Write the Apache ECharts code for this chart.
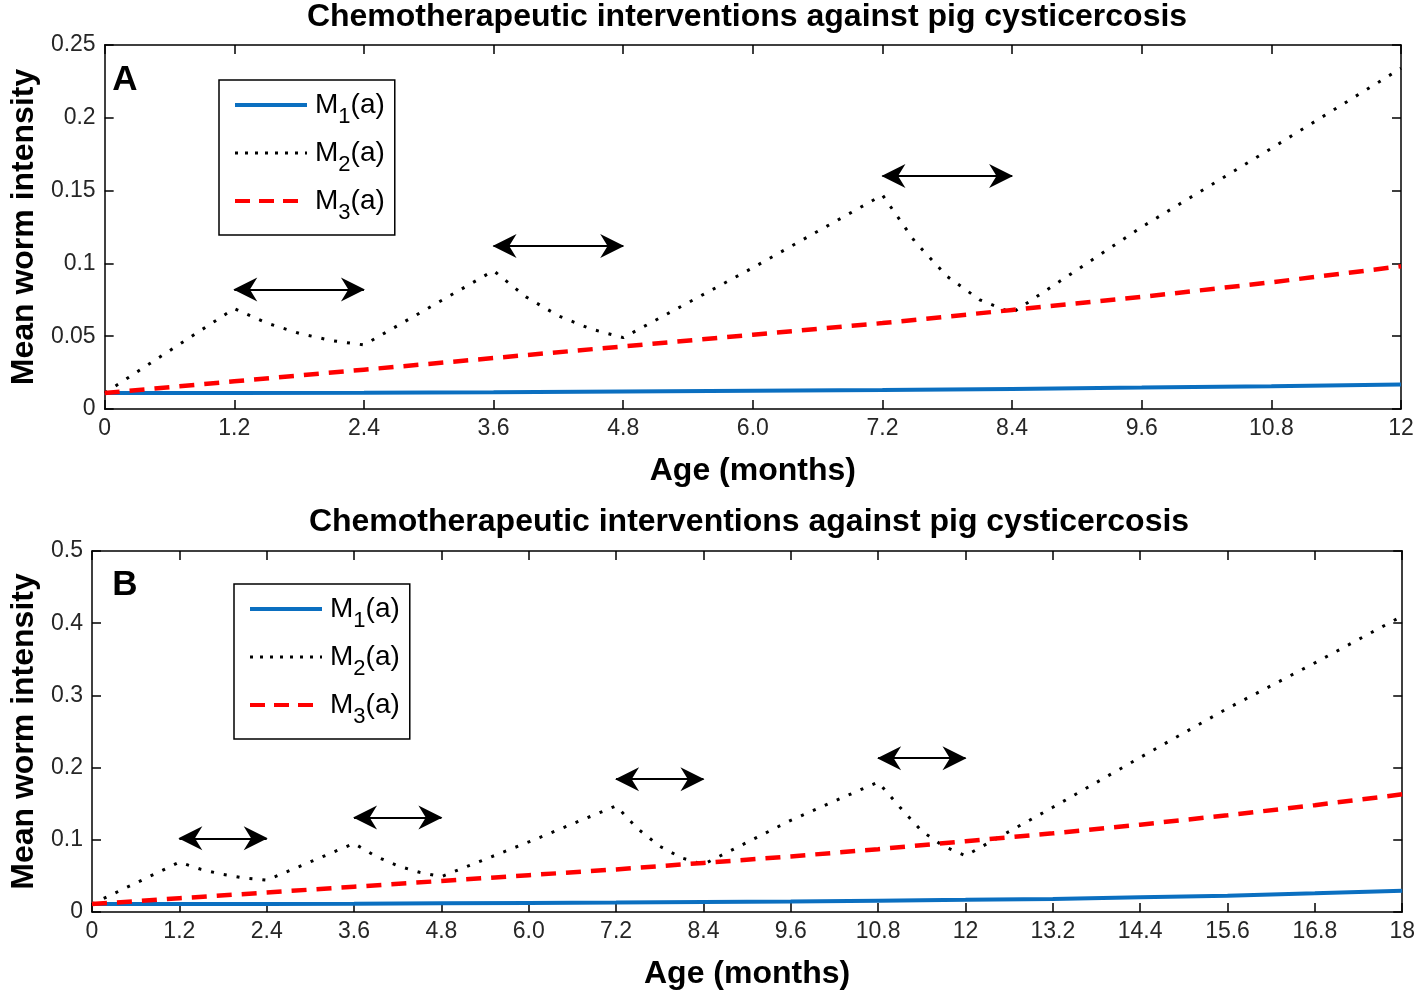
<!DOCTYPE html>
<html>
<head>
<meta charset="utf-8">
<title>Chemotherapeutic interventions against pig cysticercosis</title>
<script src="https://cdn.jsdelivr.net/npm/echarts@6/dist/echarts.min.js"></script>
<style>
  html, body { margin: 0; padding: 0; background: #fff; }
  #chart { width: 1418px; height: 991px; }
</style>
</head>
<body>
<div id="chart"></div>
<script>
// values (age in months, mean worm intensity)
var age = [0, 1.2, 2.4, 3.6, 4.8, 6.0, 7.2, 8.4, 9.6, 10.8, 12, 13.2, 14.4, 15.6, 16.8, 18];
var m1 = [0.011, 0.011, 0.0112, 0.0115, 0.012, 0.0125, 0.013, 0.0138, 0.0147, 0.0157, 0.0168, 0.018, 0.0205, 0.0225, 0.0258, 0.0295];
var m3 = [0.011, 0.019, 0.027, 0.035, 0.043, 0.051, 0.059, 0.068, 0.077, 0.087, 0.098, 0.109, 0.121, 0.134, 0.148, 0.163];

// M2 with treatment every 3.6 months (panel A) and 4 treatments (panel B)
var m2AgeA = [0, 1.2, 1.5, 1.8, 2.1, 2.4, 3.6, 3.9, 4.2, 4.5, 4.8, 6.0, 7.2, 7.5, 7.8, 8.1, 8.4, 9.6, 10.8, 12];
var m2A = [0.011, 0.069, 0.059, 0.052, 0.047, 0.044, 0.095, 0.077, 0.064, 0.055, 0.049, 0.097, 0.147, 0.115, 0.091, 0.075, 0.066, 0.125, 0.179, 0.234];
var m2AgeB = [0, 1.2, 1.5, 1.8, 2.1, 2.4, 3.6, 3.9, 4.2, 4.5, 4.8, 6.0, 7.2, 7.5, 7.8, 8.1, 8.4, 9.6, 10.8, 11.1, 11.4, 11.7, 12, 13.2, 14.4, 15.6, 16.8, 18];
var m2B = [0.011, 0.069, 0.059, 0.052, 0.047, 0.044, 0.095, 0.077, 0.064, 0.055, 0.049, 0.097, 0.147, 0.115, 0.091, 0.075, 0.066, 0.127, 0.180, 0.145, 0.112, 0.091, 0.078, 0.145, 0.214, 0.282, 0.345, 0.41];

// treatment-period arrows: [from, to, height]
var arrowsA = [[1.2, 2.4, 0.082], [3.6, 4.8, 0.112], [7.2, 8.4, 0.160]];
var arrowsB = [[1.2, 2.4, 0.102], [3.6, 4.8, 0.131], [7.2, 8.4, 0.184], [10.8, 12, 0.213]];

var xLabelsA = ['0', '1.2', '2.4', '3.6', '4.8', '6.0', '7.2', '8.4', '9.6', '10.8', '12'];
var xLabelsB = ['0', '1.2', '2.4', '3.6', '4.8', '6.0', '7.2', '8.4', '9.6', '10.8', '12', '13.2', '14.4', '15.6', '16.8', '18'];

var font = '"Liberation Sans", Arial, sans-serif';
var BLUE = '#0b6fc0', RED = '#ff0000';
var TITLE = 'Chemotherapeutic interventions against pig cysticercosis';
// matlab-like arrow head with swept-back wings
var HEAD = 'path://M0,0 L11,26 L0,18 L-11,26 Z';

var chart = echarts.init(document.getElementById('chart'));

function pairs(xs, ys, n) {
  var out = [];
  for (var i = 0; i < (n || xs.length); i++) out.push([xs[i], ys[i]]);
  return out;
}

function xAxes(gi, max, labels) {
  var line = {show: true, onZero: false, lineStyle: {color: '#000', width: 1.5}};
  var tick = {show: true, inside: true, length: 9, lineStyle: {color: '#000', width: 1.5}};
  return [{
    type: 'value', gridIndex: gi, position: 'bottom', min: 0, max: max, interval: 1.2,
    axisLine: line, axisTick: tick, splitLine: {show: false},
    name: 'Age (months)', nameLocation: 'middle', nameGap: 46,
    nameTextStyle: {fontFamily: font, fontSize: 32, fontWeight: 'bold', color: '#000'},
    axisLabel: {
      margin: 8, fontFamily: font, fontSize: 23, color: '#262626',
      formatter: function (v) { return labels[Math.round(v / 1.2)]; }
    }
  }, {
    type: 'value', gridIndex: gi, position: 'top', min: 0, max: max, interval: 1.2,
    axisLine: line, axisTick: tick, splitLine: {show: false}, axisLabel: {show: false}
  }];
}

function yAxes(gi, max, step, gap) {
  var line = {show: true, onZero: false, lineStyle: {color: '#000', width: 1.5}};
  var tick = {show: true, inside: true, length: 9, lineStyle: {color: '#000', width: 1.5}};
  return [{
    type: 'value', gridIndex: gi, position: 'left', min: 0, max: max, interval: step,
    axisLine: line, axisTick: tick, splitLine: {show: false},
    name: 'Mean worm intensity', nameLocation: 'middle', nameGap: gap, nameRotate: 90,
    nameTextStyle: {fontFamily: font, fontSize: 32, fontWeight: 'bold', color: '#000'},
    axisLabel: {margin: 9, fontFamily: font, fontSize: 23, color: '#262626'}
  }, {
    type: 'value', gridIndex: gi, position: 'right', min: 0, max: max, interval: step,
    axisLine: line, axisTick: tick, splitLine: {show: false}, axisLabel: {show: false}
  }];
}

function arrowLines(list) {
  return {
    silent: true,
    symbol: [HEAD, HEAD],
    symbolSize: 24,
    symbolOffset: [[0, 11], [0, 11]],
    label: {show: false},
    emphasis: {disabled: true},
    lineStyle: {color: '#000', width: 2, type: 'solid'},
    itemStyle: {color: '#000'},
    data: list.map(function (a) {
      return [{coord: [a[0], a[2]]}, {coord: [a[1], a[2]]}];
    })
  };
}

function panelSeries(xi, yi, n, m2x, m2y, arrows) {
  return [{
    name: 'M1(a)', type: 'line', xAxisIndex: xi, yAxisIndex: yi,
    data: pairs(age, m1, n), symbol: 'none', showSymbol: false,
    lineStyle: {color: BLUE, width: 4}, itemStyle: {color: BLUE}
  }, {
    name: 'M2(a)', type: 'line', xAxisIndex: xi, yAxisIndex: yi,
    data: pairs(m2x, m2y), symbol: 'none', showSymbol: false,
    lineStyle: {color: '#000', width: 3, type: [3, 10]}, itemStyle: {color: '#000'},
    markLine: arrowLines(arrows)
  }, {
    name: 'M3(a)', type: 'line', xAxisIndex: xi, yAxisIndex: yi,
    data: pairs(age, m3, n), symbol: 'none', showSymbol: false,
    lineStyle: {color: RED, width: 4.5, type: [15, 10]}, itemStyle: {color: RED}
  }];
}

function legendAt(left, top) {
  return {
    orient: 'vertical', left: left, top: top,
    itemWidth: 72, itemHeight: 14, itemGap: 2,
    padding: [2, 10, 11, 14],
    borderColor: '#000', borderWidth: 1.5, backgroundColor: '#fff',
    selectedMode: false,
    itemStyle: {opacity: 0},
    data: [
      {name: 'M1(a)', lineStyle: {color: BLUE, width: 4, type: 'solid'}},
      {name: 'M2(a)', lineStyle: {color: '#000', width: 3, type: [3, 7]}},
      {name: 'M3(a)', lineStyle: {color: RED, width: 4, type: [15, 9]}}
    ],
    formatter: function (name) {
      return '{m|M}{s|' + name.charAt(1) + '}{m|(a)}';
    },
    textStyle: {
      color: '#000', fontFamily: font, padding: [0, 0, 0, 3],
      rich: {
        m: {fontFamily: font, fontSize: 28, lineHeight: 32, color: '#000'},
        s: {fontFamily: font, fontSize: 22, lineHeight: 24, padding: [24, 0, 0, 0], color: '#000'}
      }
    }
  };
}

var option = {
  animation: false,
  backgroundColor: '#fff',
  textStyle: {fontFamily: font},
  title: [{
    text: TITLE, left: 742, top: -4, textAlign: 'center',
    textStyle: {fontFamily: font, fontSize: 32, fontWeight: 'bold', color: '#000'}
  }, {
    text: TITLE, left: 744, top: 501, textAlign: 'center',
    textStyle: {fontFamily: font, fontSize: 32, fontWeight: 'bold', color: '#000'}
  }],
  grid: [
    {left: 94, top: 45, width: 1307, height: 364},
    {left: 92, top: 551, width: 1314, height: 361}
  ],
  xAxis: xAxes(0, 12, xLabelsA).concat(xAxes(1, 18, xLabelsB)),
  yAxis: yAxes(0, 0.25, 0.05, 63).concat(yAxes(1, 0.5, 0.1, 51)),
  legend: [legendAt(219, 80), legendAt(234, 584)],
  graphic: [
    {type: 'text', x: 125, y: 80, style: {text: 'A', align: 'center', verticalAlign: 'middle', font: 'bold 35px "Liberation Sans", Arial', fill: '#000'}},
    {type: 'text', x: 125, y: 585, style: {text: 'B', align: 'center', verticalAlign: 'middle', font: 'bold 35px "Liberation Sans", Arial', fill: '#000'}}
  ],
  series: panelSeries(0, 0, 11, m2AgeA, m2A, arrowsA).concat(panelSeries(2, 2, 16, m2AgeB, m2B, arrowsB))
};

chart.setOption(option);
</script>
</body>
</html>
